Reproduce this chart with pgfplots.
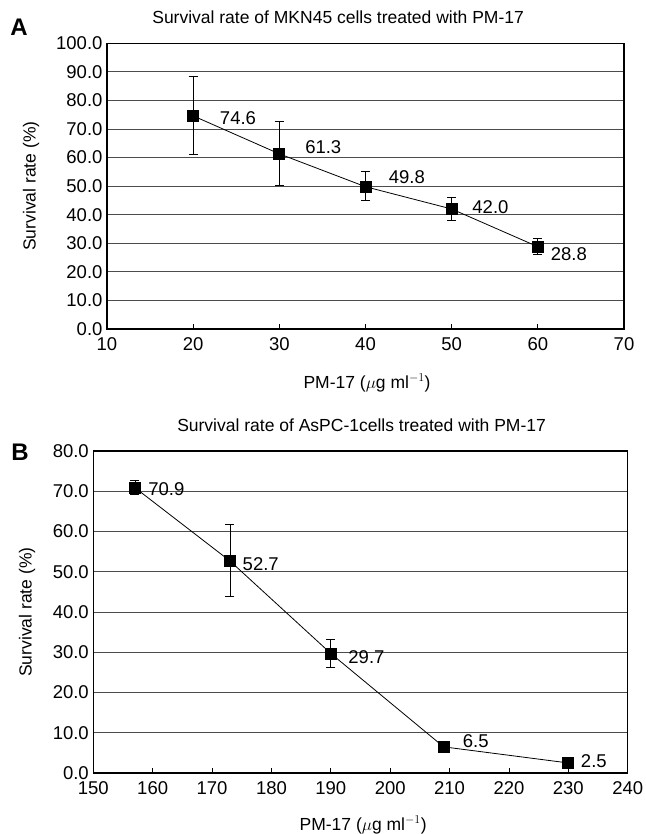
\documentclass[border=0pt]{standalone}
\usepackage{fontspec}
\setmainfont{Liberation Sans}
\usepackage{pgfplots}
\pgfplotsset{compat=1.18}
\newcommand{\fs}{\fontsize{17.5}{20}\selectfont}
\newcommand{\ft}{\fontsize{18.5}{21}\selectfont}

\pgfplotsset{
  panel/.style={
    scale only axis,
    axis line style={black, line width=1.1pt},
    font=\fs,
    ymajorgrids,
    grid style={black!70, line width=0.9pt},
    tick align=inside,
    tick pos=left,
    major tick length=5pt,
    xtick style={black, line width=0.8pt},
    ytick style={draw=none},
    /pgf/number format/assume math mode=true,
    yticklabel style={font=\ft, /pgf/number format/fixed, /pgf/number format/zerofill, /pgf/number format/precision=1, xshift=-1pt},
    xticklabel style={font=\ft, yshift=-5pt},
    scaled y ticks=false,
    title style={anchor=center, font=\fs},
    every axis x label/.style={anchor=center, font=\fs},
    every axis y label/.style={anchor=center, rotate=90, font=\fs},
  },
  series/.style={black, line width=0.8pt, mark=square*, mark size=5.5pt,
    mark options={solid, fill=black},
    error bars/.cd, y dir=both, y explicit,
    error bar style={black, line width=0.7pt},
    error mark options={rotate=90, mark size=4.5pt, black, line width=0.7pt}},
  lbl/.style={draw=none, mark=none, nodes near coords, point meta=explicit symbolic,
    nodes near coords style={anchor=center, font=\ft, inner sep=0pt}},
}

\begin{document}
\begin{tikzpicture}
\useasboundingbox (0,0) rectangle (645pt,-834pt);

% Panel A
\begin{axis}[panel,
  at={(107pt,-329pt)}, anchor=south west,
  width=517pt, height=285.7pt,
  xmin=10, xmax=70, ymin=0, ymax=100,
  xtick={10,20,30,40,50,60,70},
  ytick={0,10,20,30,40,50,60,70,80,90,100},
  title={Survival rate of MKN45 cells treated with PM-17},
  title style={at={(axis description cs:0.447,1.070)}},
  xlabel={PM-17 ($\mu$g ml$^{-1}$)},
  xlabel style={at={(axis description cs:0.503,-0.189)}},
  ylabel={Survival rate (\%)},
  ylabel style={at={(axis description cs:-0.147,0.5)}},
]
\addplot[series] coordinates {
  (20,74.6) += (0,14.0) -= (0,13.5)
  (30,61.3) += (0,11.3) -= (0,11.1)
  (40,49.8) += (0,5.3) -= (0,4.9)
  (50,42.0) += (0,4.0) -= (0,3.8)
  (60,28.8) += (0,2.8) -= (0,2.7)
};
\addplot[lbl] coordinates {
  (25.2,73.7) [74.6]
  (35.1,63.8) [61.3]
  (44.8,53.1) [49.8]
  (54.5,42.8) [42.0]
  (63.6,26.3) [28.8]
};
\end{axis}

% Panel B
\begin{axis}[panel,
  at={(93.3pt,-773pt)}, anchor=south west,
  width=534.4pt, height=322pt,
  xmin=150, xmax=240, ymin=0, ymax=80,
  xtick={150,160,170,180,190,200,210,220,230,240},
  ytick={0,10,20,30,40,50,60,70,80},
  title={Survival rate of AsPC-1cells treated with PM-17},
  title style={at={(axis description cs:0.502,1.060)}},
  xlabel={PM-17 ($\mu$g ml$^{-1}$)},
  xlabel style={at={(axis description cs:0.505,-0.161)}},
  ylabel={Survival rate (\%)},
  ylabel style={at={(axis description cs:-0.124,0.5)}},
]
\addplot[series] coordinates {
  (157,70.9) += (0,1.9) -= (0,1.7)
  (173,52.7) += (0,9.2) -= (0,8.9)
  (190,29.7) += (0,3.5) -= (0,3.4)
  (209,6.5) += (0,0.3) -= (0,0.3)
  (230,2.5) += (0,0.2) -= (0,0.2)
};
\addplot[lbl] coordinates {
  (162.3,70.5) [70.9]
  (178.2,51.8) [52.7]
  (196.0,28.8) [29.7]
  (214.4,7.9) [6.5]
  (234.3,3.0) [2.5]
};
\end{axis}

\node[font=\bfseries\fontsize{24}{26}\selectfont] at (19pt,-27pt) {A};
\node[font=\bfseries\fontsize{24}{26}\selectfont] at (20pt,-452pt) {B};
\end{tikzpicture}
\end{document}
